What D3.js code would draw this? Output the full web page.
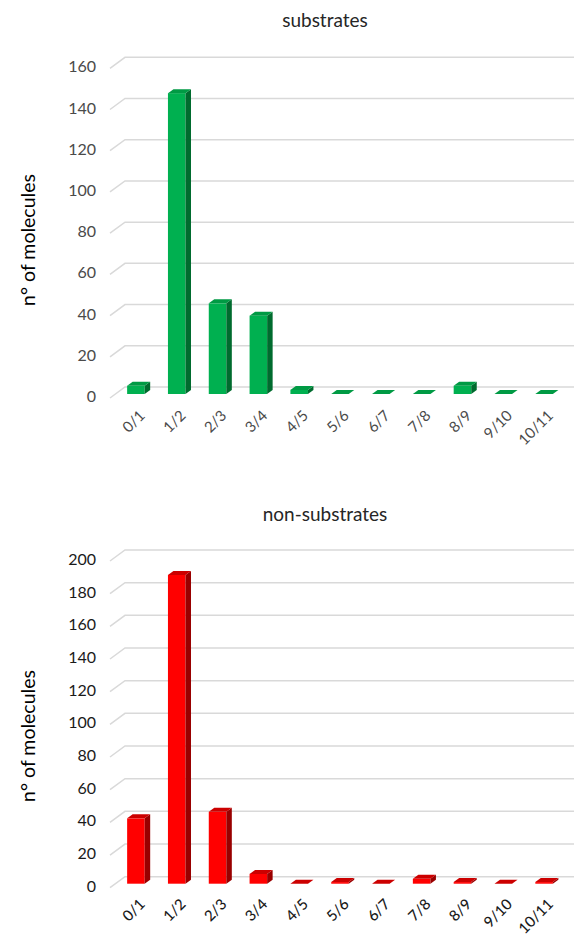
<!DOCTYPE html>
<html>
<head>
<meta charset="utf-8">
<script src="https://cdn.jsdelivr.net/npm/d3@7"></script>
<style>
  body { margin: 0; background: #fff; }
  svg { display: block; font-family: Lato, "Open Sans", sans-serif; }
</style>
</head>
<body>
<div id="chart"></div>
<script>
// data
const categories = ["0/1", "1/2", "2/3", "3/4", "4/5", "5/6", "6/7", "7/8", "8/9", "9/10", "10/11"];
const substrates = [4, 146, 44, 38, 2, 0, 0, 0, 4, 0, 0];
const nonSubstrates = [40, 189, 44, 6, 0, 1, 0, 3, 1, 0, 1];
const substrateTicks = [0, 20, 40, 60, 80, 100, 120, 140, 160];
const nonSubstrateTicks = [0, 20, 40, 60, 80, 100, 120, 140, 160, 180, 200];

const width = 574, height = 938;

const svg = d3.select("#chart")
  .append("svg")
  .attr("width", width)
  .attr("height", height);

// floor depth of the 3d plot (front edge is left/down of the back wall)
const depth = {dx: 15, dy: 11};
// bar sits in the middle of that depth
const barFront = {dx: 9.5, dy: 7};
const barSide = {dx: 5.5, dy: 4};

function drawPanel(opts) {
  const g = svg.append("g");

  const x = d3.scaleBand()
    .domain(categories)
    .range([125, 574])
    .paddingInner(0.57)
    .paddingOuter(0.285);

  const y = d3.scaleLinear()
    .domain([0, d3.max(opts.ticks)])
    .range([opts.y0, opts.yTop]);

  // title
  g.append("text")
    .attr("x", 325)
    .attr("y", opts.titleY)
    .attr("text-anchor", "middle")
    .attr("dominant-baseline", "middle")
    .attr("font-size", 19)
    .attr("fill", "#262626")
    .text(opts.title);

  // axis title
  g.append("text")
    .attr("transform", `translate(30,${opts.axisTitleY}) rotate(-90)`)
    .attr("text-anchor", "middle")
    .attr("dominant-baseline", "middle")
    .attr("font-size", 19.5)
    .attr("fill", "#000")
    .text("n° of molecules");

  // gridlines with the slanted floor piece on the left
  g.append("g")
    .selectAll("path")
    .data(opts.ticks)
    .join("path")
      .attr("d", d => `M${125 - depth.dx},${y(d) + depth.dy}L125,${y(d)}L574,${y(d)}`)
      .attr("fill", "none")
      .attr("stroke", "#d9d9d9")
      .attr("stroke-width", 1.5);

  g.append("g")
    .selectAll("text")
    .data(opts.ticks)
    .join("text")
      .attr("x", 96)
      .attr("y", d => y(d) + depth.dy)
      .attr("text-anchor", "end")
      .attr("dominant-baseline", "middle")
      .attr("font-size", 16)
      .attr("fill", opts.labelColor)
      .text(d => d);

  // bars: front face, right side, top
  const bw = x.bandwidth();
  const bars = g.append("g")
    .selectAll("g")
    .data(opts.values.map((v, i) => ({cat: categories[i], v: v})))
    .join("g");

  const fx = d => x(d.cat) - barFront.dx;
  const fTop = d => y(d.v) + barFront.dy;
  const fBot = y(0) + barFront.dy;

  bars.append("rect")
    .attr("x", fx)
    .attr("y", fTop)
    .attr("width", bw)
    .attr("height", d => fBot - fTop(d))
    .attr("fill", opts.front);

  bars.append("path")
    .attr("d", d => {
      const x1 = fx(d) + bw;
      return `M${x1},${fTop(d)}L${x1 + barSide.dx},${fTop(d) - barSide.dy}` +
        `L${x1 + barSide.dx},${fBot - barSide.dy}L${x1},${fBot}Z`;
    })
    .attr("fill", opts.side);

  bars.append("path")
    .attr("d", d => {
      const x0 = fx(d), t = fTop(d);
      return `M${x0},${t}L${x0 + bw},${t}L${x0 + bw + barSide.dx},${t - barSide.dy}` +
        `L${x0 + barSide.dx},${t - barSide.dy}Z`;
    })
    .attr("fill", opts.top);

  // category labels, tilted
  g.append("g")
    .selectAll("text")
    .data(categories)
    .join("text")
      .attr("transform", d => `translate(${x(d) + bw / 2 - 8},${y(0) + opts.labelDy}) rotate(-45)`)
      .attr("text-anchor", "end")
      .attr("dominant-baseline", "hanging")
      .attr("font-size", 15)
      .attr("font-weight", opts.labelWeight)
      .attr("fill", opts.labelColor)
      .text(d => d);
}

drawPanel({
  title: "substrates",
  titleY: 22,
  axisTitleY: 240,
  values: substrates,
  ticks: substrateTicks,
  y0: 387,
  yTop: 57.3,
  labelDy: 21,
  labelColor: "#4a4a4a",
  labelWeight: 400,
  front: "#00b050",
  side: "#006b2e",
  top: "#009a44"
});

drawPanel({
  title: "non-substrates",
  titleY: 516,
  axisTitleY: 736,
  values: nonSubstrates,
  ticks: nonSubstrateTicks,
  y0: 876.7,
  yTop: 550,
  labelDy: 20,
  labelColor: "#1a1a1a",
  labelWeight: 500,
  front: "#ff0000",
  side: "#990000",
  top: "#cc0000"
});
</script>
</body>
</html>
